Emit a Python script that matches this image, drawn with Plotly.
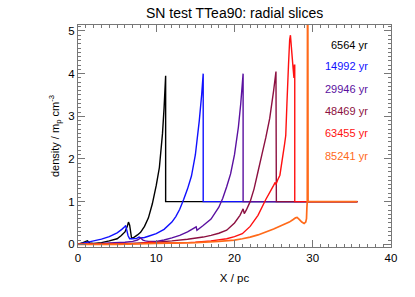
import plotly.graph_objects as go

# ---- data ----
ages = ["6564 yr", "14992 yr", "29946 yr", "48469 yr", "63455 yr", "85241 yr"]
colors = ["#000000", "#1010ff", "#5a10a0", "#8c1040", "#ff1010", "#ff6a1a"]

x_6564 = [0, 0.5, 1.0, 1.2, 1.5, 2, 3, 4, 5, 5.5, 6.0, 6.3, 6.45, 6.6, 6.85, 7.2, 7.6, 8.0, 8.5,
          9.0, 9.5, 10.0, 10.4, 10.8, 11.0, 11.2, 11.2, 35.7]
y_6564 = [0, 0.03, 0.07, 0.08, 0.03, 0.02, 0.04, 0.08, 0.13, 0.2, 0.29, 0.42, 0.52, 0.45, 0.14, 0.17,
          0.22, 0.28, 0.42, 0.62, 0.95, 1.38, 1.8, 2.6, 3.2, 3.95, 1.0, 1.0]

x_14992 = [0, 1, 2, 3, 4, 5, 5.6, 6.0, 6.1, 6.4, 6.6, 7.0, 7.5, 7.8, 8.0, 8.5, 9, 10, 11, 12, 12.5,
           13, 13.5, 14, 14.5, 15, 15.5, 15.8, 16.0, 16.0, 35.7]
y_14992 = [0, 0.04, 0.08, 0.12, 0.18, 0.27, 0.35, 0.42, 0.44, 0.2, 0.13, 0.13, 0.14, 0.17, 0.15,
           0.16, 0.19, 0.25, 0.35, 0.52, 0.65, 0.82, 1.05, 1.3, 1.6, 2.1, 2.9, 3.5, 4.0, 1.0, 1.0]

x_29946 = [0, 2, 4, 6, 7, 7.6, 8.0, 8.3, 8.6, 9, 10, 11, 12, 13, 14, 15.1, 15.2, 16, 17, 18, 18.5,
           19, 19.5, 20, 20.5, 20.8, 21.1, 21.1, 35.7]
y_29946 = [0, 0.01, 0.03, 0.05, 0.07, 0.1, 0.15, 0.1, 0.08, 0.07, 0.07, 0.1, 0.15, 0.21, 0.29, 0.41,
           0.33, 0.44, 0.59, 0.87, 1.08, 1.35, 1.65, 2.1, 2.75, 3.3, 4.0, 1.0, 1.0]

x_48469 = [0, 5, 8, 10, 12, 14, 16, 17, 18, 19, 20, 20.7, 21.1, 21.25, 21.5, 22, 22.5, 23, 23.5,
           24, 24.5, 25, 25.3, 25.35, 35.7]
y_48469 = [0, 0.01, 0.03, 0.05, 0.08, 0.12, 0.17, 0.21, 0.26, 0.33, 0.5, 0.68, 0.83, 0.72, 0.8,
           1.0, 1.3, 1.7, 2.1, 2.5, 2.95, 3.6, 4.05, 1.0, 1.0]

x_63455 = [0, 5, 8, 9.2, 10, 12, 14, 15, 17, 19, 20, 21, 22, 23, 24, 24.7, 25.0, 25.2, 25.3, 25.5,
           25.8, 26.4, 26.55, 26.7, 26.9, 27.05, 27.15, 27.3, 27.5, 27.6, 27.65, 27.7, 27.7, 35.7]
y_63455 = [0, 0.01, 0.02, 0.05, 0.03, 0.03, 0.04, 0.05, 0.08, 0.13, 0.18, 0.25, 0.42, 0.68, 1.05,
           1.28, 1.38, 1.45, 1.4, 1.5, 1.62, 2.35, 2.55, 3.3, 4.2, 4.8, 4.9, 4.55, 4.1, 3.9, 4.2,
           4.2, 1.0, 1.0]

x_85241 = [0, 5, 10, 15, 18, 20, 21, 22, 23, 24, 25, 26, 27, 27.5, 27.8, 28.0, 28.3, 28.6, 28.9,
           29.1, 29.2, 29.25, 29.3, 29.35, 29.4, 35.7]
y_85241 = [0, 0.0, 0.02, 0.04, 0.07, 0.1, 0.13, 0.17, 0.22, 0.29, 0.36, 0.44, 0.52, 0.58, 0.62,
           0.63, 0.58, 0.52, 0.49, 0.52, 0.6, 0.85, 1.0, 9.0, 1.0, 1.0]

xs = [x_6564, x_14992, x_29946, x_48469, x_63455, x_85241]
ys = [y_6564, y_14992, y_29946, y_48469, y_63455, y_85241]

label_x = 37.3
label_y = [4.68, 4.17, 3.65, 3.12, 2.62, 2.08]

x_ticks = [0, 10, 20, 30, 40]
y_ticks = [0, 1, 2, 3, 4, 5]

FONT = "Liberation Sans, Arial, Helvetica, sans-serif"

fig = go.Figure()
for i in range(len(ages)):
    fig.add_trace(go.Scatter(x=xs[i], y=ys[i], mode="lines",
                             line=dict(color=colors[i], width=1.7 if i == 5 else 1.4,
                                       simplify=False),
                             showlegend=False, hoverinfo="skip"))
    fig.add_annotation(x=label_x, y=label_y[i], xref="x", yref="y", text=ages[i],
                       showarrow=False, xanchor="right", yanchor="middle",
                       font=dict(family=FONT, size=11, color=colors[i]))

axis_common = dict(showgrid=False, zeroline=False, showline=True, linecolor="#777",
                   linewidth=1, mirror="ticks", ticks="inside", tickcolor="#777",
                   automargin=False,
                   tickfont=dict(family=FONT, size=11.5, color="#000"))

fig.update_xaxes(range=[0, 40], tickvals=x_ticks, ticklen=7,
                 minor=dict(ticks="inside", dtick=1, ticklen=3, tickcolor="#777"),
                 title=dict(text="X / pc", font=dict(family=FONT, size=11.5, color="#000"), standoff=11),
                 **axis_common)
fig.update_yaxes(range=[-0.063, 5.14], tickvals=y_ticks, ticklen=7,
                 minor=dict(ticks="inside", dtick=0.1, ticklen=3, tickcolor="#777"),
                 title=dict(text="density / m<sub>p</sub> cm<sup>-3</sup>",
                            font=dict(family=FONT, size=11, color="#000"), standoff=6),
                 **axis_common)

fig.update_layout(
    width=415, height=297,
    margin=dict(l=78, r=24, t=25, b=50, autoexpand=False),
    paper_bgcolor="white", plot_bgcolor="white",
    title=dict(text="SN test TTea90: radial slices", x=0.5653, xanchor="center",
               y=0.955, yanchor="middle", font=dict(family=FONT, size=14, color="#000")),
)

fig.write_html("out.html", config={"displayModeBar": False},
               post_script="document.body.style.margin='0';")
